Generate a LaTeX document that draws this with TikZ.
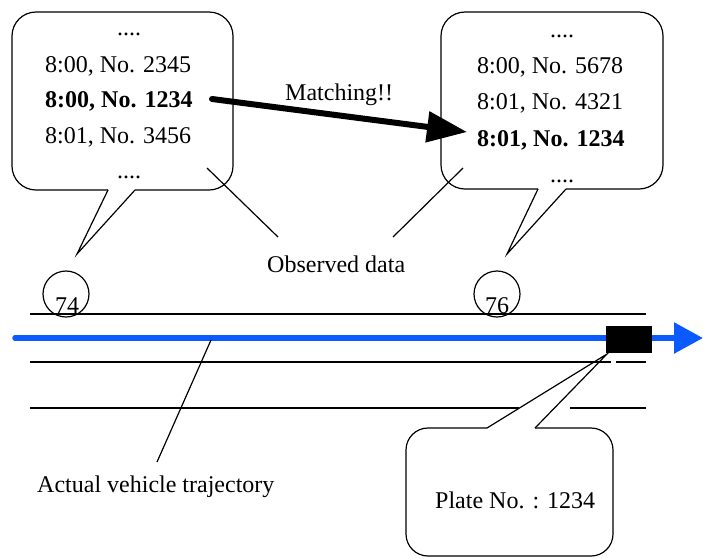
\documentclass[tikz,border=0pt]{standalone}
\usepackage{fontspec}
\setmainfont{Liberation Serif}
\usetikzlibrary{arrows.meta}
\definecolor{trajblue}{RGB}{10,90,255}
\tikzset{
  txt/.style={inner sep=0pt, anchor=base west, font=\fontsize{24}{28}\selectfont},
  btxt/.style={txt, font=\fontsize{24}{28}\selectfont\bfseries},
  balloon/.style={line width=1.2pt, rounded corners=24pt},
  tail/.style={line width=1.2pt, line join=miter},
  roadline/.style={line width=1.3pt},
  pointer/.style={line width=1.2pt},
  sensor/.style={draw, circle, line width=1.2pt, minimum size=46pt, inner sep=0pt},
}
\begin{document}
\begin{tikzpicture}[x=1pt, y=-1pt]
\useasboundingbox (0,0) rectangle (703,558);

% ---- upstream detector record (left balloon) ----
\coordinate (lA) at (108,190);
\coordinate (lB) at (135,190);
\coordinate (lTip) at (77,254);
\draw[balloon] (lA) -- (12,190) -- (12,12) -- (233,12) -- (233,190) -- (lB);
\draw[tail] (lA) -- (lTip) -- (lB);
\node[txt] (l0) at (117,35) {....};
\node[txt] (l1) at (45,72) {8:00, No. 2345};
\node[btxt] (l2) at (45,107) {8:00, No. 1234};
\node[txt] (l3) at (45,143) {8:01, No. 3456};
\node[txt] (l4) at (117,178) {....};

% ---- downstream detector record (right balloon) ----
\coordinate (rA) at (538,189);
\coordinate (rB) at (566,189);
\coordinate (rTip) at (507,254);
\draw[balloon] (rA) -- (441,189) -- (441,12) -- (663,12) -- (663,189) -- (rB);
\draw[tail] (rA) -- (rTip) -- (rB);
\node[txt] (r0) at (550,37) {....};
\node[txt] (r1) at (477,73) {8:00, No. 5678};
\node[txt] (r2) at (477,109) {8:01, No. 4321};
\node[btxt] (r3) at (477,146) {8:01, No. 1234};
\node[txt] (r4) at (550,182) {....};

% ---- matching arrow ----
\coordinate (mFrom) at (212,99);
\coordinate (mTo) at (467,132);
\draw[line width=6pt, line cap=round, -{Triangle[length=40pt,width=30pt]}] (mFrom) -- (mTo);
\node[txt] (match) at (285,100) {Matching!!};

% ---- observed data label ----
\node[txt] (obs) at (267,272) {Observed data};
\coordinate (oL1) at (207,168);
\coordinate (oL2) at (278,237);
\coordinate (oR1) at (463,168);
\coordinate (oR2) at (393,237);
\draw[pointer] (oL1) -- (oL2);
\draw[pointer] (oR1) -- (oR2);

% ---- detectors ----
\node[sensor] (d74) at (66,294) {};
\node[txt] (t74) at (55,313) {74};
\node[sensor] (d76) at (497,294) {};
\node[txt] (t76) at (485,313) {76};

% ---- road ----
\coordinate (r1a) at (30,314);  \coordinate (r1b) at (646,314);
\coordinate (r2a) at (30,362);  \coordinate (r2b) at (611,362);
\coordinate (r2c) at (616,362); \coordinate (r2d) at (646,362);
\coordinate (r3a) at (30,408);  \coordinate (r3b) at (519,408);
\coordinate (r3c) at (570,408); \coordinate (r3d) at (646,408);
\draw[roadline] (r1a) -- (r1b);
\draw[roadline] (r2a) -- (r2b);
\draw[roadline] (r2c) -- (r2d);
\draw[roadline] (r3a) -- (r3b);
\draw[roadline] (r3c) -- (r3d);

% ---- vehicle trajectory ----
\coordinate (tStart) at (15,338);
\coordinate (tEnd) at (703,338);
\draw[trajblue, line width=5.5pt, line cap=round, -{Triangle[length=29pt,width=30pt]}] (tStart) -- (tEnd);
\node[fill=black, inner sep=0pt, minimum width=46pt, minimum height=27pt] (car) at (628.5,339.5) {};

\coordinate (aTop) at (211,340);
\coordinate (aBot) at (157,462);
\draw[pointer] (aTop) -- (aBot);
\node[txt] (traj) at (37,492) {Actual vehicle trajectory};

% ---- plate balloon ----
\coordinate (pA) at (487,428);
\coordinate (pB) at (535,428);
\coordinate (pTip) at (607,354);
\draw[balloon, rounded corners=22pt] (pA) -- (406,428) -- (406,556) -- (613,556) -- (613,428) -- (pB);
\draw[tail] (pA) -- (pTip) -- (pB);
\node[txt] (plate) at (435,508) {Plate No. : 1234};
\end{tikzpicture}
\end{document}
